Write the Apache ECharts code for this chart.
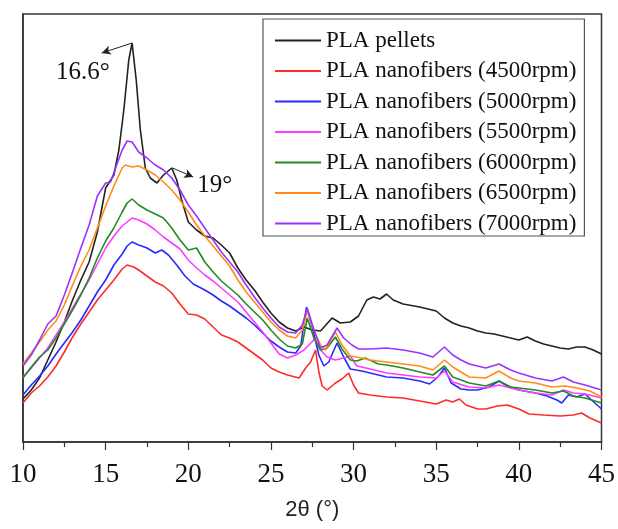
<!DOCTYPE html>
<html><head><meta charset="utf-8">
<script src="https://cdn.jsdelivr.net/npm/echarts@6/dist/echarts.min.js"></script>
<style>html,body{margin:0;padding:0;background:#fff}#c{width:618px;height:529px}</style>
</head><body><div id="c"></div>
<script>
const seriesNames = ['PLA pellets','PLA nanofibers (4500rpm)','PLA nanofibers (5000rpm)','PLA nanofibers (5500rpm)','PLA nanofibers (6000rpm)','PLA nanofibers (6500rpm)','PLA nanofibers (7000rpm)'];
const xTicks = [10,15,20,25,30,35,40,45];
const pellets = [[10,43],[10.5,52],[11,64],[11.5,82],[12,100],[12.5,120],[13,142],[13.5,162],[14,180],[14.5,210],[15,254],[15.5,267],[15.8,292],[16.1,332],[16.4,382],[16.6,399],[16.85,362],[17.1,312],[17.4,274],[17.7,264],[18.1,259],[18.5,267],[19.0,274],[19.3,262],[19.6,242],[20,220],[20.5,212],[21,206],[21.5,204],[22,197],[22.5,189],[23,174],[23.5,162],[24,152],[24.5,140],[25,129],[25.5,120],[26,114],[26.5,111],[27,115],[27.5,112],[28,111],[28.7,124],[29.2,119],[29.8,120],[30.3,126],[30.8,142],[31.2,145],[31.6,143],[32,148],[32.4,142],[33,138],[34,135],[35,131],[35.5,124],[36,119],[36.5,116],[37,114],[37.5,111],[38,109],[38.5,108],[39,106],[39.5,104],[40,102],[40.5,105],[41,101],[41.5,98],[42,96],[42.5,94],[43,93],[43.5,95],[44,95],[44.5,92],[45,88]];
const rpm4500 = [[10,39],[10.5,49],[11,56],[11.5,65],[12,76],[12.5,90],[13,105],[13.5,118],[14,130],[14.5,142],[15,152],[15.5,162],[16,173],[16.3,177],[16.7,175],[17,172],[17.5,166],[18,160],[18.5,156],[19,149],[19.5,138],[20,128],[20.5,127],[21,123],[21.5,115],[22,107],[22.5,104],[23,100],[23.5,94],[24,88],[24.5,82],[25,74],[25.5,70],[26,67],[26.7,64],[27.1,74],[27.4,80],[27.7,92],[27.9,70],[28.1,56],[28.4,52],[28.9,59],[29.3,63],[29.7,69],[30.0,57],[30.3,49],[31,47],[32,45],[33,44],[34,41],[35,38],[35.6,42],[36,40],[36.4,43],[36.8,37],[37.5,33],[38,33],[38.7,36],[39.3,37],[40,33],[40.6,28],[41.5,27],[42.5,26],[43.3,27],[43.8,29],[44.3,24],[45,19]];
const rpm5000 = [[10,47],[10.5,57],[11,66],[11.5,76],[12,88],[12.5,99],[13,110],[13.5,122],[14,136],[14.5,150],[15,162],[15.5,177],[16,188],[16.3,196],[16.6,200],[17,197],[17.5,194],[18,189],[18.4,192],[18.8,187],[19.3,177],[19.8,166],[20.3,158],[21,152],[21.5,147],[22,141],[22.5,136],[23,130],[23.5,124],[24,117],[24.5,109],[25,101],[25.5,95],[26,90],[26.5,89],[26.8,96],[27.15,135],[27.5,115],[27.9,87],[28.2,76],[28.5,80],[29.0,99],[29.4,85],[29.8,73],[30.5,71],[31,69],[32,65],[33,64],[34,61],[34.6,58],[35.1,65],[35.5,74],[35.9,59],[36.5,53],[37,52],[37.5,52],[38.2,55],[38.8,61],[39.3,56],[40,52],[41,49],[41.7,46],[42.3,42],[42.6,39],[43,47],[43.5,45],[44,48],[44.4,42],[45,33]];
const rpm5500 = [[10,65],[10.5,74],[11,84],[11.5,94],[12,107],[12.5,120],[13,134],[13.5,148],[14,162],[14.5,178],[15,194],[15.5,206],[16,216],[16.6,224],[17,222],[17.5,218],[18,212],[18.5,205],[19,199],[19.5,193],[20,182],[20.5,174],[21,167],[21.5,161],[22,154],[22.5,147],[23,140],[23.5,130],[24,120],[24.5,110],[25,99],[25.5,88],[26,84],[26.5,87],[27,92],[27.3,97],[27.65,103],[28.0,92],[28.4,85],[28.9,82],[29.4,84],[29.8,86],[30.2,76],[31,73],[32,69],[33,67],[34,65],[35,64],[35.5,71],[36,60],[37,55],[38,54],[38.8,57],[39.5,54],[40,52],[41,49],[42,47],[42.7,52],[43.3,49],[44,48],[45,44]];
const rpm6000 = [[10,64],[10.5,75],[11,85],[11.5,92],[12,104],[12.5,118],[13,132],[13.5,147],[14,164],[14.5,184],[15,201],[15.5,214],[16,230],[16.3,239],[16.6,243],[17,237],[17.5,232],[18,228],[18.5,224],[19,214],[19.5,202],[20,192],[20.5,194],[21,180],[21.5,170],[22,161],[22.5,154],[23,147],[23.5,138],[24,130],[24.5,122],[25,112],[25.5,103],[26,96],[26.5,94],[26.9,98],[27.2,124],[27.6,104],[28.0,92],[28.4,94],[28.9,105],[29.3,93],[29.8,82],[30.2,81],[30.7,84],[31.5,78],[32,77],[33,74],[34,70],[34.8,67],[35.5,76],[36,65],[37,59],[38,56],[38.8,61],[39.5,55],[40,54],[41,52],[42,49],[42.7,51],[43.3,46],[44,44],[45,39]];
const rpm6500 = [[10,78],[10.5,89],[11,100],[11.5,112],[12,121],[12.5,137],[13,157],[13.5,176],[14,192],[14.5,214],[15,236],[15.5,256],[16,274],[16.2,277],[16.6,275],[17,276],[17.5,272],[18,267],[18.5,260],[19,252],[19.5,242],[20,230],[20.5,217],[21,206],[21.5,196],[22,186],[22.5,176],[23,162],[23.5,150],[24,140],[24.5,130],[25,120],[25.5,112],[26,106],[26.5,104],[26.9,112],[27.2,131],[27.6,112],[28.0,97],[28.3,92],[28.9,110],[29.3,97],[29.8,86],[30.5,84],[31,82],[32,80],[33,78],[34,76],[34.8,72],[35.5,82],[36,75],[37,65],[38,64],[38.8,71],[39.5,64],[40,61],[41,59],[42,55],[42.8,56],[43.5,54],[44.3,51],[45,45]];
const rpm7000 = [[10,76],[10.5,87],[11,102],[11.5,118],[12,126],[12.5,147],[13,170],[13.5,194],[14,217],[14.5,246],[15,259],[15.3,260],[15.6,274],[16,292],[16.3,301],[16.6,300],[17,290],[17.5,284],[18,277],[18.5,272],[19,264],[19.5,252],[20,237],[20.5,226],[21,214],[21.5,202],[22,190],[22.5,180],[23,170],[23.5,157],[24,145],[24.5,134],[25,124],[25.5,115],[26,110],[26.5,109],[26.9,117],[27.2,134],[27.6,112],[28.0,94],[28.4,97],[29.0,114],[29.4,104],[29.9,97],[30.3,93],[31,93],[32,94],[33,92],[34,89],[34.8,85],[35.5,95],[36,87],[36.5,82],[37,78],[38,74],[38.8,78],[39.5,72],[40,69],[41,64],[42,61],[42.7,65],[43.3,60],[44,57],[45,52]];
const allData = [pellets, rpm4500, rpm5000, rpm5500, rpm6000, rpm6500, rpm7000];
const colors = ['#222222','#ff2a2a','#2a2aff','#ff3cff','#228b22','#ff8c1a','#9933ff'];
const peakLabels = [{name:'16.6°', coord:[13.63,370]}, {name:'19°', coord:[21.6,257]}];
const arrows = [[[16.6,399],[14.76,389]], [[19.05,274],[20.3,265]]];

const serif = '"Liberation Serif","Times New Roman",serif';
const chart = echarts.init(document.getElementById('c'), null, {renderer:'canvas'});
const series = allData.map((d,i)=>({
  name: seriesNames[i], type:'line', data:d, showSymbol:false, symbol:'none',
  lineStyle:{width:1.6, color:colors[i]}, itemStyle:{color:colors[i]}, animation:false, z: 2
}));
series[0].markLine = {
  silent:true, symbol:['none','arrow'], symbolSize:[7,9], animation:false,
  lineStyle:{color:'#222', width:1, type:'solid'}, label:{show:false},
  data: arrows.map(a=>[{coord:a[0]},{coord:a[1]}])
};
series[0].markPoint = {
  silent:true, symbol:'circle', symbolSize:0, animation:false,
  label:{show:true, position:'inside', formatter:'{b}', fontFamily:serif, fontSize:25, color:'#111'},
  data: peakLabels.map(p=>({name:p.name, coord:p.coord}))
};
chart.setOption({
  animation:false,
  grid:{left:23, right:16, top:14, bottom:87, show:true, borderColor:'#333', borderWidth:1.5, backgroundColor:'transparent'},
  legend:{
    data: seriesNames, left:263, top:19, orient:'vertical', align:'left',
    padding:[10,8,1,12], itemWidth:46, itemHeight:14, itemGap:7.5,
    borderColor:'#555', borderWidth:1.2, backgroundColor:'#fff',
    icon:'path://M0,6L46,6L46,8L0,8Z',
    textStyle:{fontFamily:serif, fontSize:23, color:'#111', lineHeight:22}
  },
  xAxis:{
    type:'value', min:10, max:45, interval:5,
    name:'2θ (°)', nameLocation:'middle', nameGap:57,
    nameTextStyle:{fontFamily:'"Liberation Sans",Arial,sans-serif', fontSize:22, color:'#222'},
    axisLine:{show:true, onZero:false, lineStyle:{color:'#333', width:1.5}},
    axisTick:{show:true, inside:false, length:8, lineStyle:{color:'#333', width:1.2}},
    minorTick:{show:true, splitNumber:2, length:5, lineStyle:{color:'#333', width:1.2}},
    axisLabel:{fontFamily:serif, fontSize:27, color:'#111', margin:19,
      formatter:v=> xTicks.includes(v) ? String(v) : ''},
    splitLine:{show:false}
  },
  yAxis:{
    type:'value', min:0, max:428,
    axisLine:{show:true, lineStyle:{color:'#333', width:1.5}},
    axisTick:{show:false}, axisLabel:{show:false}, splitLine:{show:false}
  },
  series: series
});
</script></body></html>
